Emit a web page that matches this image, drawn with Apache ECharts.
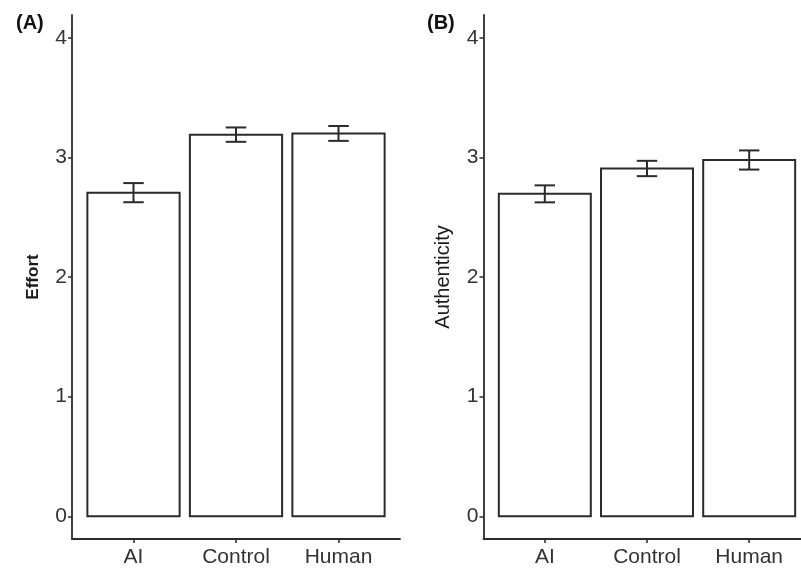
<!DOCTYPE html>
<html>
<head>
<meta charset="utf-8">
<script src="https://cdn.jsdelivr.net/npm/echarts@6/dist/echarts.min.js"></script>
<style>html,body{margin:0;padding:0;background:#fff;}#c{width:801px;height:571px;}</style>
</head>
<body>
<div id="c"></div>
<script>
const categories = ['AI', 'Control', 'Human'];
const yTicks = [0, 1, 2, 3, 4];
const effortMean = [2.705, 3.19, 3.20];
const effortErr = [0.08, 0.06, 0.062];
const authMean = [2.695, 2.907, 2.978];
const authErr = [0.071, 0.064, 0.08];

const chart = echarts.init(document.getElementById('c'), null, {renderer: 'canvas'});
const INK = '#2b2b2b';
const TXT = '#333333';
const FONT = 'Liberation Sans, Arial, sans-serif';
const xPos = categories.map((c, i) => i + 1);

function barData(mean) { return mean.map((m, i) => [xPos[i], m]); }
function errData(mean, err) { return mean.map((m, i) => [xPos[i], m - err[i], m + err[i]]); }

function renderBar(params, api) {
  const x = api.value(0), v = api.value(1);
  const p1 = api.coord([x - 0.45, v]);
  const p2 = api.coord([x + 0.45, 0]);
  return {
    type: 'rect',
    shape: {x: p1[0], y: p1[1], width: p2[0] - p1[0], height: p2[1] - p1[1]},
    style: {fill: '#ffffff', stroke: INK, lineWidth: 2}
  };
}
function renderErr(params, api) {
  const x = api.value(0), lo = api.value(1), hi = api.value(2);
  const pl = api.coord([x, lo]), ph = api.coord([x, hi]);
  const a = api.coord([x - 0.1, lo]), b = api.coord([x + 0.1, lo]);
  const c = api.coord([x - 0.1, hi]), d = api.coord([x + 0.1, hi]);
  const st = {stroke: INK, lineWidth: 2};
  return {
    type: 'group',
    children: [
      {type: 'line', shape: {x1: pl[0], y1: pl[1], x2: ph[0], y2: ph[1]}, style: st},
      {type: 'line', shape: {x1: a[0], y1: a[1], x2: b[0], y2: b[1]}, style: st},
      {type: 'line', shape: {x1: c[0], y1: c[1], x2: d[0], y2: d[1]}, style: st}
    ]
  };
}

function xAxisDef(gi) {
  return {
    type: 'value', gridIndex: gi, min: 0.4, max: 3.6,
    splitLine: {show: false},
    axisLine: {show: true, onZero: false, lineStyle: {color: INK, width: 1.8}},
    axisTick: {show: true, customValues: xPos, length: 4, lineStyle: {color: INK, width: 1.5}},
    axisLabel: {show: true, customValues: xPos, margin: 8, fontSize: 21, color: TXT,
      fontFamily: FONT,
      formatter: v => categories[Math.round(v) - 1] || ''}
  };
}
function yAxisDef(gi, name, bold, size, gap) {
  return {
    type: 'value', gridIndex: gi, min: -0.19, max: 4.19,
    name: name, nameLocation: 'middle', nameRotate: 90, nameGap: gap,
    nameTextStyle: {fontSize: size, fontWeight: bold ? 'bold' : 'normal', color: '#1a1a1a',
      fontFamily: FONT},
    splitLine: {show: false},
    axisLine: {show: true, onZero: false, lineStyle: {color: INK, width: 1.8}},
    axisTick: {show: true, customValues: yTicks, length: 4, lineStyle: {color: INK, width: 1.5}},
    axisLabel: {show: true, customValues: yTicks, margin: 5, fontSize: 21, color: TXT,
      fontFamily: FONT}
  };
}

chart.setOption({
  animation: false,
  backgroundColor: '#ffffff',
  title: [
    {text: '(A)', left: 11, top: 8, textStyle: {fontSize: 20, fontWeight: 'bold', color: '#111',
      fontFamily: FONT}},
    {text: '(B)', left: 422, top: 8, textStyle: {fontSize: 20, fontWeight: 'bold', color: '#111',
      fontFamily: FONT}}
  ],
  grid: [
    {left: 72, top: 15, width: 328, height: 524, outerBoundsMode: 'none', containLabel: false},
    {left: 483.5, top: 15, width: 327, height: 524, outerBoundsMode: 'none', containLabel: false}
  ],
  xAxis: [xAxisDef(0), xAxisDef(1)],
  yAxis: [yAxisDef(0, 'Effort', true, 17, 30), yAxisDef(1, 'Authenticity', false, 20, 30)],
  series: [
    {type: 'custom', xAxisIndex: 0, yAxisIndex: 0, renderItem: renderBar, data: barData(effortMean), encode: {x: 0, y: 1}},
    {type: 'custom', xAxisIndex: 0, yAxisIndex: 0, renderItem: renderErr, data: errData(effortMean, effortErr), encode: {x: 0, y: [1, 2]}},
    {type: 'custom', xAxisIndex: 1, yAxisIndex: 1, renderItem: renderBar, data: barData(authMean), encode: {x: 0, y: 1}},
    {type: 'custom', xAxisIndex: 1, yAxisIndex: 1, renderItem: renderErr, data: errData(authMean, authErr), encode: {x: 0, y: [1, 2]}}
  ]
});
</script>
</body>
</html>
